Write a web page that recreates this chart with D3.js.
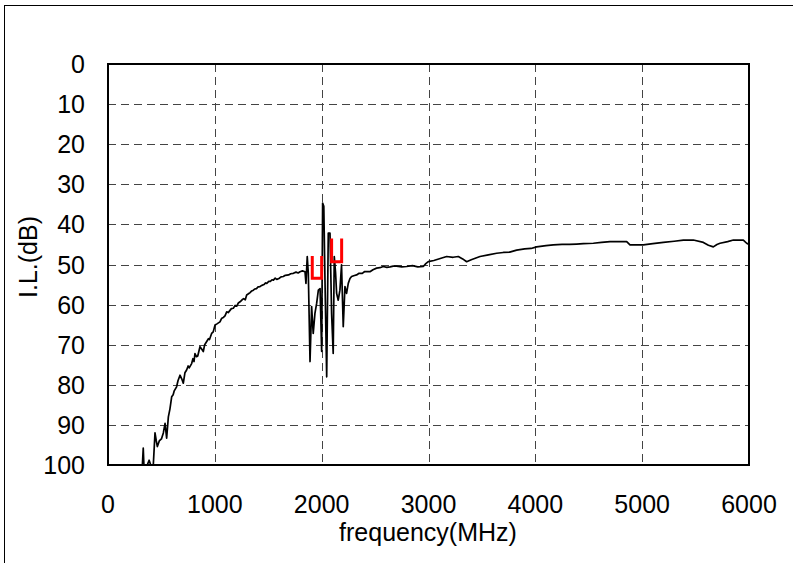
<!DOCTYPE html>
<html><head><meta charset="utf-8">
<script src="https://cdn.jsdelivr.net/npm/d3@7"></script>
<style>body{margin:0;background:#fff}svg{display:block}text{font-family:"Liberation Sans",Arial,sans-serif;fill:#000}</style>
</head><body>
<svg id="c" width="793" height="563"></svg>
<script>
const freq = [300,320,330,336,360,385,400,424,440,452,462,480,500,518,534,549,565,580,596,610,620,642,655,674,690,705,720,736,750,760,783,795,805,814,828,840,861,875,892,905,924,940,950,970,985,1002,1020,1048,1065,1080,1095,1111,1125,1140,1155,1173,1190,1205,1220,1236,1255,1270,1285,1298,1315,1330,1345,1361,1375,1390,1405,1423,1440,1460,1475,1486,1505,1520,1535,1548,1565,1580,1600,1620,1641,1660,1690,1710,1735,1760,1780,1797,1820,1844,1853,1865,1875,1891,1906,1921,1937,1953,1969,1985,2000,2009,2020,2031,2047,2062,2078,2093,2108,2118,2130,2140,2155,2171,2186,2202,2218,2233,2249,2265,2280,2300,2327,2350,2380,2400,2421,2452,2480,2514,2545,2577,2610,2640,2670,2700,2750,2795,2850,2900,2951,2975,2998,3050,3110,3170,3230,3279,3320,3357,3400,3482,3560,3638,3700,3760,3825,3900,3960,4012,4100,4168,4250,4320,4386,4450,4543,4620,4699,4780,4855,4886,4950,5011,5100,5198,5300,5386,5479,5573,5620,5666,5700,5729,5800,5854,5947,5978,6000];
const il = [102,101,95.8,100,100.5,98.8,100,100,92,94,95.4,94,93.5,92,89.6,93.3,88,86,83,82.5,81.5,80.5,79,77.6,78.5,79.6,77,76.3,75.3,75.8,74.7,73.5,74.2,72.2,73.0,72.8,70.5,71.0,71.7,70.0,69.2,68.5,68.7,67.2,66.8,65.1,64.8,64.3,63.4,63.2,62.8,61.8,62.0,61.5,61.0,60.9,60.2,60.4,59.6,59.3,58.8,58.5,58.8,57.6,57.3,57.0,56.6,56.4,56.1,56.0,55.6,55.5,55.2,55.0,54.6,54.7,54.2,54.2,53.8,53.9,53.4,53.7,53.5,53.1,53.0,52.7,52.6,52.3,52.2,51.9,52.1,51.8,51.6,51.8,54.7,48.0,52.2,74.2,60.5,67.2,62.2,59.7,56.4,56.0,71.7,34.7,35.5,53.9,78.0,42.2,42.2,62.2,72.2,48.0,52.0,57.2,58.9,56.4,50.1,65.5,55.5,57.2,54.7,53.5,53.0,52.8,52.6,52.2,52.2,51.8,51.8,51.8,51.3,50.9,50.8,50.5,50.7,50.6,50.4,50.4,50.6,50.5,50.3,50.6,50.5,49.8,49.3,49.0,48.5,48.0,48.2,48.0,48.6,49.3,48.8,48.0,47.6,47.2,47.0,46.9,46.4,46.1,46.0,45.6,45.3,45.1,45.0,45.0,44.9,44.8,44.7,44.5,44.3,44.3,44.3,45.1,45.1,45.1,44.8,44.5,44.2,43.9,43.9,44.5,45.2,45.6,45.0,44.7,44.3,43.9,43.9,44.7,45.0];
const markerLo = [1912,2093];
const markerHi = [2000,2187];
const markerTop = [47.9,43.5];
const markerBottom = [53.4,49.3];
const xTicks = [0,1000,2000,3000,4000,5000,6000];
const yTicks = [0,10,20,30,40,50,60,70,80,90,100];

const svg = d3.select("#c");
const L=108,T=64,R=749,B=465;
const x = d3.scaleLinear().domain([0,6000]).range([L,R]);
const y = d3.scaleLinear().domain([0,100]).range([T,B]);

// outer frame
svg.append("rect").attr("x",4.5).attr("y",5.5).attr("width",900).attr("height",700)
  .attr("fill","none").attr("stroke","#000").attr("stroke-width",1);

// grid
svg.append("g").selectAll("line").data(yTicks.slice(1,-1)).join("line")
  .attr("x1",L).attr("x2",R).attr("y1",d=>Math.round(y(d))+0.5).attr("y2",d=>Math.round(y(d))+0.5)
  .attr("stroke","#444").attr("stroke-dasharray","8,5");
svg.append("g").selectAll("line").data(xTicks.slice(1,-1)).join("line")
  .attr("y1",T).attr("y2",B).attr("x1",d=>Math.round(x(d))+0.5).attr("x2",d=>Math.round(x(d))+0.5)
  .attr("stroke","#444").attr("stroke-dasharray","8,5");

// clip
svg.append("clipPath").attr("id","clp").append("rect").attr("x",L).attr("y",T).attr("width",R-L).attr("height",B-T);

const data = freq.map((f,i)=>[f,il[i]]);
svg.append("path").datum(data).attr("clip-path","url(#clp)")
  .attr("d",d3.line().x(d=>x(d[0])).y(d=>y(d[1])))
  .attr("fill","none").attr("stroke","#000").attr("stroke-width",1.7).attr("stroke-linejoin","round");

// red markers
const mk = markerLo.map((lo,i)=>({lo,hi:markerHi[i],t:markerTop[i],b:markerBottom[i]}));
svg.append("g").selectAll("path").data(mk).join("path")
  .attr("d",d=>`M${x(d.lo)},${y(d.t)}L${x(d.lo)},${y(d.b)}L${x(d.hi)},${y(d.b)}L${x(d.hi)},${y(d.t)}`)
  .attr("fill","none").attr("stroke","#ff0000").attr("stroke-width",3);

// plot border
svg.append("rect").attr("x",L).attr("y",T).attr("width",R-L).attr("height",B-T)
  .attr("fill","none").attr("stroke","#000").attr("stroke-width",2);

// tick labels
svg.append("g").selectAll("text").data(yTicks).join("text")
  .attr("x",85).attr("y",d=>y(d)).attr("dy","0.36em").attr("text-anchor","end")
  .attr("font-size",25).text(d=>d);
svg.append("g").selectAll("text").data(xTicks).join("text")
  .attr("x",d=>x(d)).attr("y",513).attr("text-anchor","middle")
  .attr("font-size",25).text(d=>d);

svg.append("text").attr("x",428).attr("y",541).attr("text-anchor","middle")
  .attr("font-size",25).text("frequency(MHz)");
svg.append("text").attr("transform","translate(37,257) rotate(-90)")
  .attr("text-anchor","middle").attr("font-size",25).text("I.L.(dB)");
</script>
</body></html>
